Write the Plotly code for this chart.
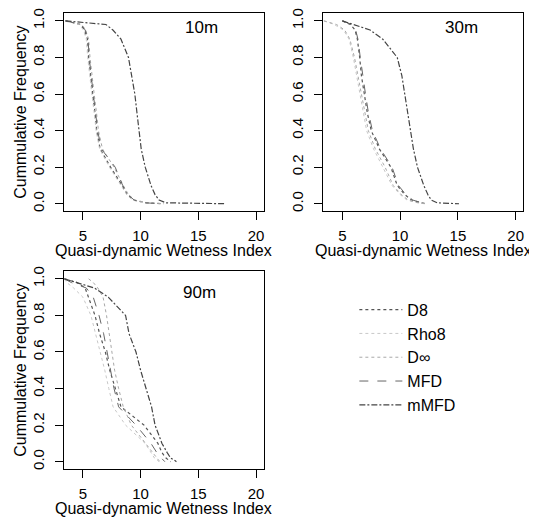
import plotly.graph_objects as go

# Cumulative frequency levels (shared y values for all curves)
freq = [1.0, 0.98, 0.95, 0.9, 0.8, 0.7, 0.6, 0.5, 0.4, 0.3, 0.2, 0.1, 0.05, 0.02, 0.005, 0.0]

series_names = ["D8", "Rho8", "D\u221e", "MFD", "mMFD"]

# Quasi-dynamic wetness index at each frequency level, 10 m DEM
qdwi_10m_d8 = [3.5, 4.8, 5.15, 5.4, 5.5, 5.65, 5.85, 6.05, 6.2, 6.5, 7.4, 8.4, 8.85, 9.4, 10.5, 12.0]
qdwi_10m_rho8 = [3.5, 4.7, 5.05, 5.3, 5.42, 5.58, 5.78, 5.98, 6.15, 6.45, 7.3, 8.3, 8.8, 9.3, 10.3, 11.5]
qdwi_10m_dinf = [3.5, 4.9, 5.25, 5.5, 5.62, 5.78, 5.98, 6.18, 6.35, 6.7, 7.7, 8.5, 8.95, 9.5, 10.6, 12.0]
qdwi_10m_mfd = [3.5, 4.85, 5.2, 5.45, 5.55, 5.7, 5.9, 6.1, 6.28, 6.6, 7.8, 8.45, 8.9, 9.45, 10.4, 11.8]
qdwi_10m_mmfd = [3.5, 7.0, 7.6, 8.3, 8.95, 9.25, 9.5, 9.68, 9.85, 10.05, 10.4, 10.9, 11.25, 11.6, 12.2, 17.4]

# 30 m DEM
qdwi_30m_d8 = [5.0, 5.7, 6.1, 6.3, 6.5, 6.65, 6.9, 7.15, 7.5, 8.2, 9.2, 9.75, 10.4, 11.0, 11.8, 12.3]
qdwi_30m_rho8 = [3.4, 4.3, 5.1, 5.58, 5.95, 6.25, 6.55, 6.85, 7.1, 7.7, 8.5, 9.3, 10.0, 10.6, 11.5, 12.1]
qdwi_30m_dinf = [3.4, 4.5, 5.2, 5.65, 6.05, 6.35, 6.65, 6.95, 7.25, 7.85, 8.7, 9.4, 10.1, 10.7, 11.6, 12.2]
qdwi_30m_mfd = [5.0, 5.8, 6.15, 6.35, 6.55, 6.75, 7.0, 7.25, 7.6, 8.3, 9.3, 9.85, 10.5, 11.1, 11.9, 12.4]
qdwi_30m_mmfd = [5.0, 6.0, 7.4, 8.5, 9.75, 10.15, 10.4, 10.65, 10.85, 11.15, 11.5, 12.05, 12.4, 12.7, 13.2, 15.1]

# 90 m DEM
qdwi_90m_d8 = [3.4, 4.5, 5.2, 5.5, 6.05, 6.45, 6.95, 7.33, 7.8, 8.3, 10.3, 11.5, 11.85, 12.2, 12.5, 12.6]
qdwi_90m_rho8 = [3.4, 3.6, 4.2, 5.0, 5.7, 6.1, 6.55, 6.9, 7.25, 7.62, 8.7, 10.4, 10.9, 11.2, 11.5, 11.6]
qdwi_90m_dinf = [5.5, 5.9, 6.3, 6.75, 7.05, 7.3, 7.5, 7.75, 8.1, 8.5, 9.2, 10.4, 11.0, 11.35, 11.6, 11.7]
qdwi_90m_mfd = [3.4, 4.0, 5.3, 5.9, 6.4, 6.8, 7.1, 7.4, 7.7, 8.1, 9.6, 10.9, 11.4, 11.8, 12.0, 12.1]
qdwi_90m_mmfd = [3.4, 4.5, 6.0, 7.2, 8.7, 9.0, 9.6, 10.0, 10.45, 10.95, 11.25, 11.85, 12.3, 12.6, 13.0, 13.1]

panel_labels = ["10m", "30m", "90m"]
x_ticks = [5, 10, 15, 20]
y_ticks = [0.0, 0.2, 0.4, 0.6, 0.8, 1.0]
y_tick_text = ["0.0", "0.2", "0.4", "0.6", "0.8", "1.0"]
x_title = "Quasi-dynamic Wetness Index"
y_title = "Cummulative Frequency"

panels = [
    [qdwi_10m_d8, qdwi_10m_rho8, qdwi_10m_dinf, qdwi_10m_mfd, qdwi_10m_mmfd],
    [qdwi_30m_d8, qdwi_30m_rho8, qdwi_30m_dinf, qdwi_30m_mfd, qdwi_30m_mmfd],
    [qdwi_90m_d8, qdwi_90m_rho8, qdwi_90m_dinf, qdwi_90m_mfd, qdwi_90m_mmfd],
]

line_styles = [
    dict(color="#555555", dash="dot", width=1.2),
    dict(color="#c8c8c8", dash="dot", width=1.0),
    dict(color="#a8a8a8", dash="dot", width=1.0),
    dict(color="#666666", dash="dash", width=1.0),
    dict(color="#444444", dash="6px,2px,2px,2px", width=1.2),
]

FONT = "Liberation Sans, Arial, sans-serif"
W, H = 537, 518
OFF = 8  # page body margin of the browser

fig = go.Figure()
axis_ids = [("x", "y"), ("x2", "y2"), ("x3", "y3")]
for p, (data, (xa, ya)) in enumerate(zip(panels, axis_ids)):
    for s, xs in enumerate(data):
        fig.add_trace(go.Scatter(
            x=xs, y=freq, mode="lines", name=series_names[s],
            line=line_styles[s], xaxis=xa, yaxis=ya,
            showlegend=(p == 0), hoverinfo="skip",
        ))


def fx(px):
    return min(max((px - OFF) / W, 0.0), 1.0)


def fy(py):
    return min(max(1 - (py - OFF) / H, 0.0), 1.0)


# panel boxes in screen pixels: (left, right, top, bottom)
boxes = [(64, 264, 8, 208), (324, 524, 8, 208), (64, 264, 269, 469)]
yranges = [[-0.038, 1.043], [-0.038, 1.043], [-0.038, 1.043]]

common = dict(showline=True, mirror=True, linecolor="black", linewidth=1,
              ticks="outside", ticklen=8, tickcolor="black", tickwidth=1,
              showgrid=False, zeroline=False,
              tickfont=dict(family=FONT, size=15, color="black"))

layout_axes = {}
for i, (l, r, t, b) in enumerate(boxes):
    suffix = "" if i == 0 else str(i + 1)
    layout_axes["xaxis" + suffix] = dict(
        common, domain=[fx(l), fx(r)], range=[3.36, 20.64],
        tickvals=x_ticks, anchor="y" + suffix, ticklabelstandoff=3)
    layout_axes["yaxis" + suffix] = dict(
        common, domain=[fy(b), fy(t)], range=yranges[i],
        tickvals=y_ticks, ticktext=y_tick_text, tickangle=-90,
        anchor="x" + suffix, ticklabelstandoff=5)

annotations = []
label_pos = [(202, 23), (462, 23), (200, 291)]
for (px, py), txt in zip(label_pos, panel_labels):
    annotations.append(dict(x=fx(px), y=fy(py), xref="paper", yref="paper",
                            xanchor="center", yanchor="middle",
                            text=txt, showarrow=False,
                            font=dict(family=FONT, size=17, color="black")))
for (l, r, t, b) in boxes:
    annotations.append(dict(x=fx((l + r) / 2), y=fy(b + 40), xref="paper", yref="paper",
                            xanchor="center", yanchor="middle",
                            text=x_title, showarrow=False,
                            font=dict(family=FONT, size=16, color="black")))
for (l, r, t, b) in [boxes[0], boxes[2]]:
    annotations.append(dict(x=fx(21), y=fy((t + b) / 2), xref="paper", yref="paper",
                            xanchor="center", yanchor="middle",
                            text=y_title, showarrow=False, textangle=-90,
                            font=dict(family=FONT, size=16, color="black")))

fig.update_layout(
    width=W, height=H,
    margin=dict(l=0, r=0, t=0, b=0),
    paper_bgcolor="white", plot_bgcolor="white",
    font=dict(family=FONT, color="black"),
    showlegend=True,
    legend=dict(x=fx(355), y=fy(291), xanchor="left", yanchor="top",
                font=dict(family=FONT, size=16, color="black"),
                bgcolor="rgba(0,0,0,0)", itemwidth=43, tracegroupgap=0),
    annotations=annotations,
    **layout_axes,
)

fig.write_html("out.html")
